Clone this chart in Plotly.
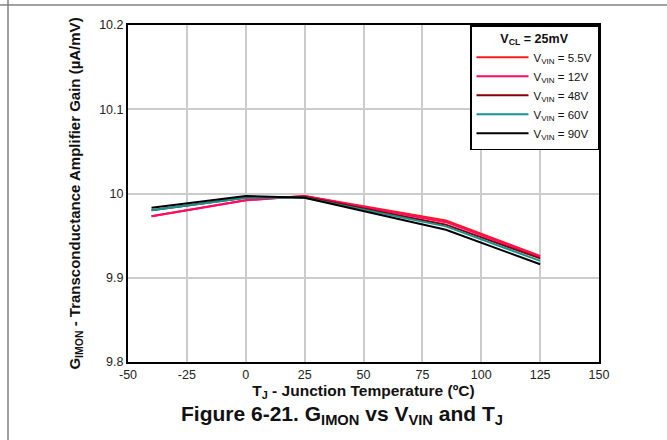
import plotly.graph_objects as go

temps = [-40, 0, 25, 85, 125]
g_5v5 = [9.973, 9.992, 9.997, 9.968, 9.926]
g_12v = [9.973, 9.992, 9.997, 9.966, 9.925]
g_48v = [9.980, 9.995, 9.996, 9.963, 9.923]
g_60v = [9.980, 9.995, 9.995, 9.961, 9.920]
g_90v = [9.983, 9.997, 9.995, 9.957, 9.916]

series_names = ["V<sub>VIN</sub> = 5.5V", "V<sub>VIN</sub> = 12V", "V<sub>VIN</sub> = 48V",
                "V<sub>VIN</sub> = 60V", "V<sub>VIN</sub> = 90V"]
series_vals = [g_5v5, g_12v, g_48v, g_60v, g_90v]
colors = ["#ff1a1a", "#ff0a6a", "#8b0000", "#129494", "#000000"]

x_ticks = [-50, -25, 0, 25, 50, 75, 100, 125, 150]
y_ticks = [9.8, 9.9, 10.0, 10.1, 10.2]
y_tick_text = ["9.8", "9.9", "10", "10.1", "10.2"]

fig = go.Figure()
for name, vals, c in zip(series_names, series_vals, colors):
    fig.add_trace(go.Scatter(x=temps, y=vals, mode="lines", name=name,
                             line=dict(color=c, width=2)))

font = "Liberation Sans, Arial, sans-serif"
fig.update_layout(
    width=667, height=440,
    margin=dict(l=128, r=68, t=25, b=78),
    paper_bgcolor="white", plot_bgcolor="white",
    font=dict(family=font, size=12.5, color="#222"),
    showlegend=True,
    legend=dict(
        x=1, y=1, xanchor="right", yanchor="top",
        bgcolor="white", bordercolor="black", borderwidth=1.5,
        font=dict(size=11.5, color="#111"),
        title=dict(text="<b>V<sub>CL</sub> = 25mV</b>", side="top center",
                   font=dict(size=12.5, color="#111")),
        tracegroupgap=0, itemwidth=52,
    ),
    xaxis=dict(
        range=[-50, 150], tickvals=x_ticks, ticktext=[str(v) for v in x_ticks],
        showgrid=True, gridcolor="#cccccc", gridwidth=1.5,
        showline=True, linecolor="black", linewidth=2, mirror=True,
        ticks="", zeroline=False,
        title=dict(text="<b>T<sub>J</sub> - Junction Temperature (ºC)</b>",
                   font=dict(size=15.5, color="#111"), standoff=1),
    ),
    yaxis=dict(
        range=[9.8, 10.2], tickvals=y_ticks, ticktext=y_tick_text,
        showgrid=True, gridcolor="#cccccc", gridwidth=1.5,
        showline=True, linecolor="black", linewidth=2, mirror=True,
        ticks="", zeroline=False,
        title=dict(text="<b>G<sub>IMON</sub> - Transconductance Amplifier Gain (µA/mV)</b>",
                   font=dict(size=15, color="#111"), standoff=15),
    ),
)

fig.add_annotation(
    text="<b>Figure 6-21. G<sub>IMON</sub> vs V<sub>VIN</sub> and T<sub>J</sub></b>",
    xref="paper", yref="paper", x=0.454, y=-0.112, xanchor="center", yanchor="top",
    showarrow=False, font=dict(size=21, color="#111", family=font),
)

# page frame lines
fig.add_shape(type="line", xref="paper", yref="paper",
              x0=-128/471, x1=(667-128)/471, y0=1 + 20/337, y1=1 + 20/337,
              line=dict(color="#808080", width=1.5))
fig.add_shape(type="line", xref="paper", yref="paper",
              x0=-120/471, x1=-120/471, y0=1 + 25/337, y1=-78/337,
              line=dict(color="#808080", width=1.5))

fig.write_html("out.html")
